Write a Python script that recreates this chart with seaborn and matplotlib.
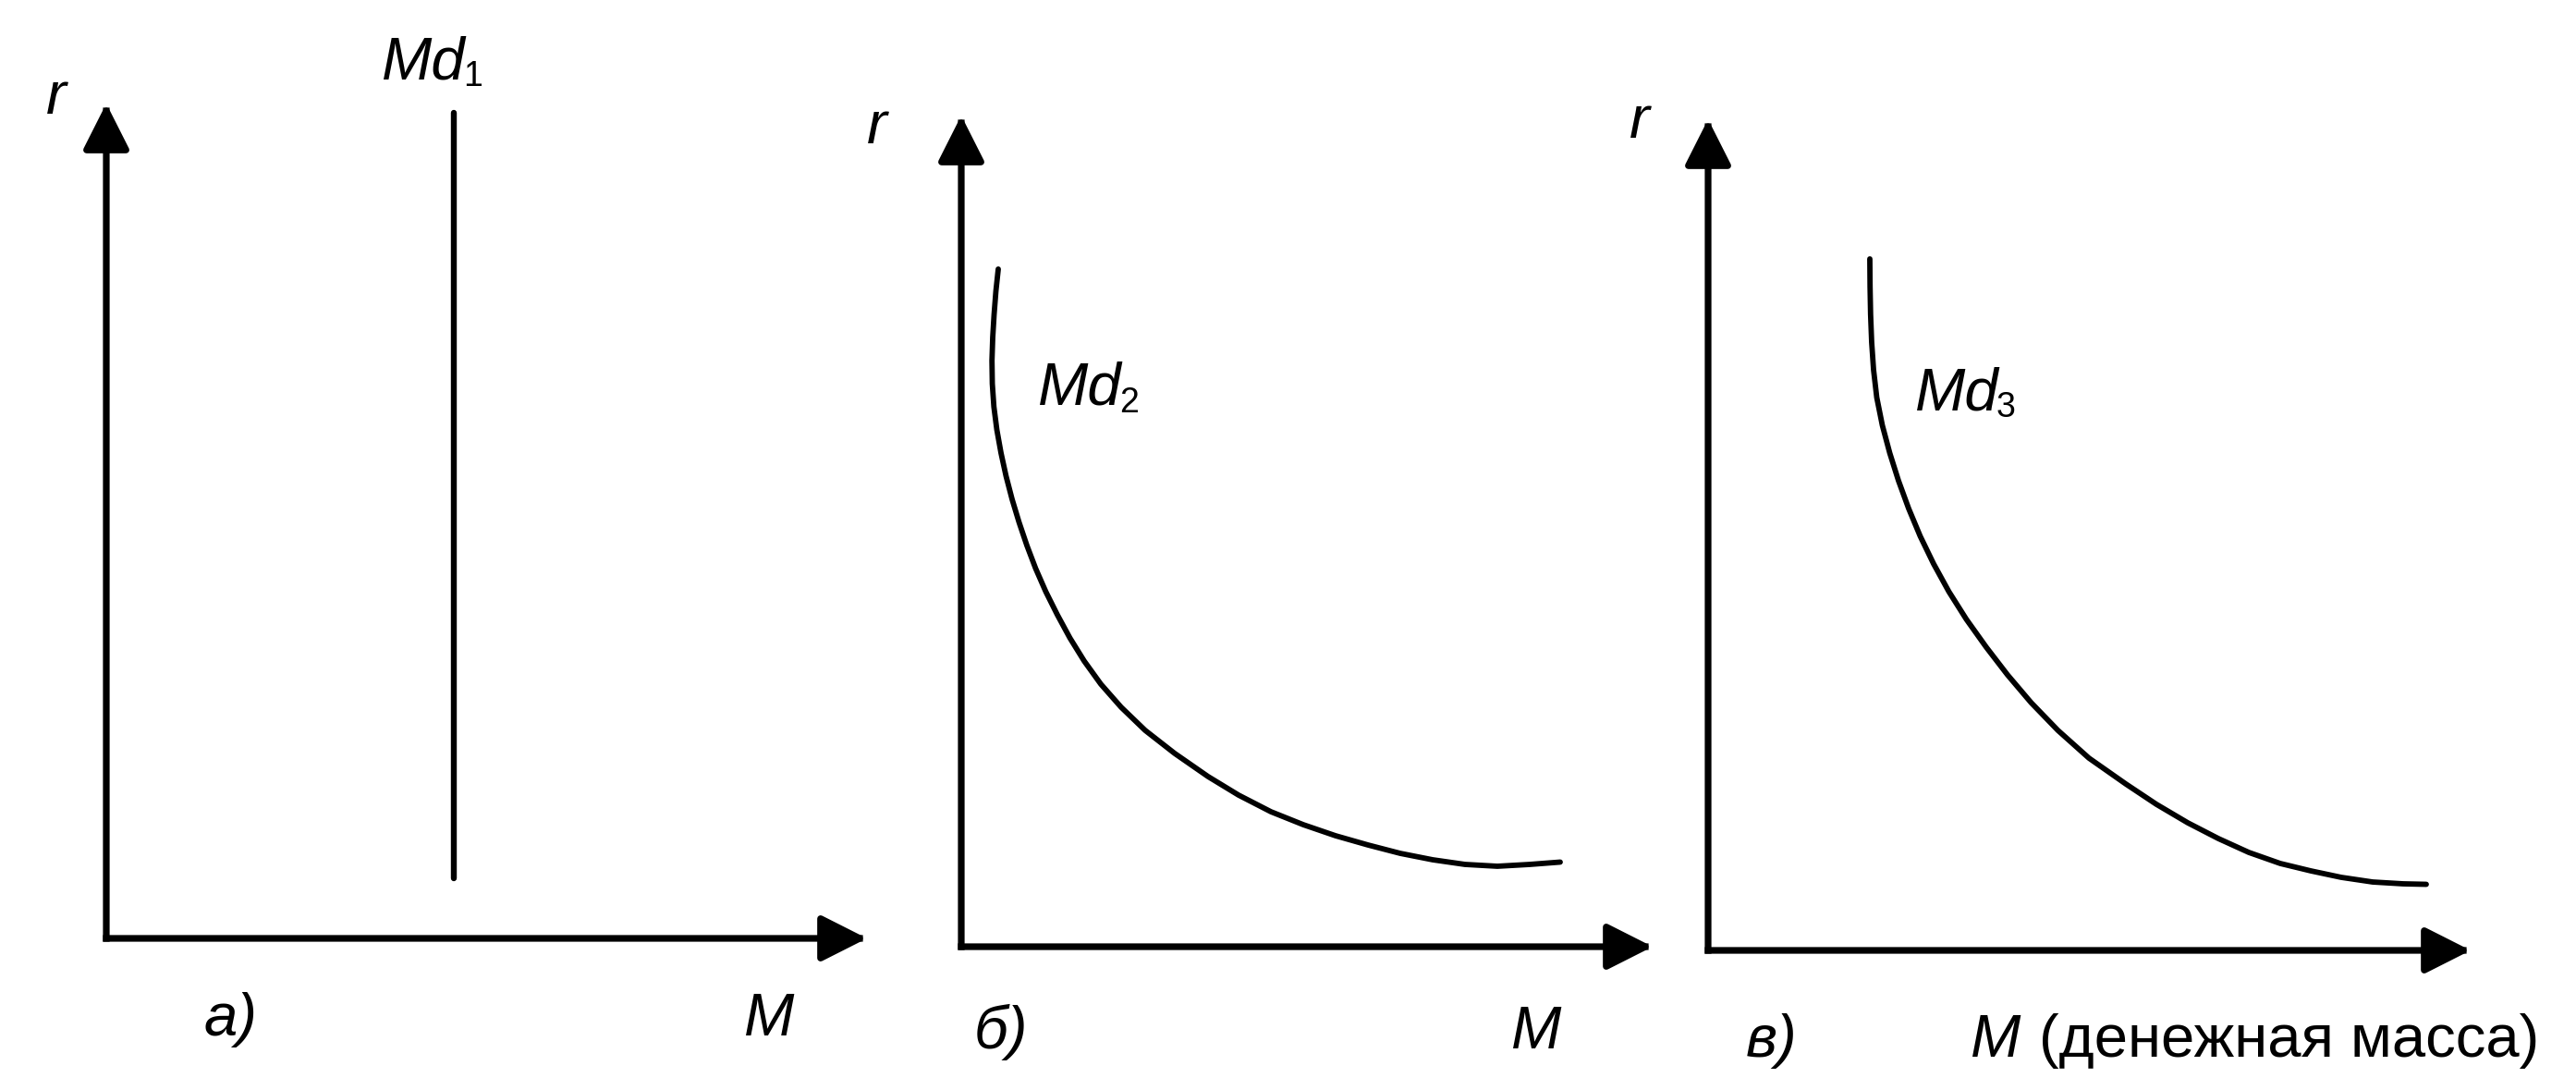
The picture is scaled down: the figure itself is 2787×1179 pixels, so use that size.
import matplotlib
matplotlib.use("Agg")
import matplotlib.pyplot as plt
import seaborn as sns

sns.set_theme(style="white")
plt.rcParams['font.family'] = ['Liberation Sans', 'DejaVu Sans']

# ---------- data (each panel: M from 0 to 10 along x, r from 0 to 10 along y) ----------
# a) vertical money demand
md1_M = [4.57, 4.57]
md1_r = [0.72, 9.89]

# б) falling curve that flattens out
md2_M = [0.535, 0.501, 0.475, 0.455, 0.444, 0.449, 0.472, 0.515, 0.575, 0.648,
         0.735, 0.836, 0.949, 1.076, 1.223, 1.390, 1.571, 1.778, 2.019, 2.313,
         2.660, 3.088, 3.570, 4.011, 4.479, 4.947, 5.414, 5.882, 6.350, 6.818,
         7.286, 7.754, 8.222, 8.663]
md2_r = [8.153, 7.887, 7.608, 7.330, 7.052, 6.774, 6.496, 6.218, 5.940, 5.662,
         5.384, 5.106, 4.828, 4.550, 4.271, 3.993, 3.715, 3.437, 3.159, 2.881,
         2.603, 2.325, 2.047, 1.824, 1.624, 1.468, 1.335, 1.224, 1.123, 1.046,
         0.990, 0.968, 0.990, 1.018]

# в) falling curve
md3_M = [2.121, 2.124, 2.131, 2.145, 2.170, 2.212, 2.285, 2.382, 2.497, 2.630,
         2.782, 2.958, 3.158, 3.388, 3.648, 3.927, 4.236, 4.588, 4.994, 5.479,
         5.879, 6.291, 6.691, 7.091, 7.503, 7.903, 8.303, 8.715, 9.115, 9.418]
md3_r = [8.320, 7.987, 7.653, 7.319, 6.986, 6.652, 6.318, 5.985, 5.651, 5.317,
         4.983, 4.650, 4.316, 3.982, 3.648, 3.315, 2.981, 2.647, 2.314, 2.002,
         1.758, 1.535, 1.346, 1.179, 1.046, 0.957, 0.879, 0.823, 0.801, 0.795]

panel_tags = ['а)', 'б)', 'в)']
curve_names = ['Md', 'Md', 'Md']
curve_subs = ['1', '2', '3']

# ---------- figure ----------
W, H = 2787, 1179
fig = plt.figure(figsize=(W / 100, H / 100), dpi=100)
fig.patch.set_facecolor('white')


def px(x, y):
    return x / W, 1 - y / H


def make_panel(ox, oy, tipx, tipy):
    # axes box: arrows start in the lower-left corner, tips sit on the upper/right edge
    ax = fig.add_axes([ox / W, 1 - oy / H, (tipx - ox) / W, (oy - tipy) / H])
    ax.set_xlim(0, 10)
    ax.set_ylim(0, 10)
    ax.set_axis_off()
    arrow = dict(arrowstyle='-|>,head_length=0.95,head_width=0.48', mutation_scale=32,
                 lw=5.2, color='black', shrinkA=0, shrinkB=0, capstyle='projecting')
    ax.annotate('', xy=(10, 0), xytext=(0, 0), arrowprops=arrow, annotation_clip=False)
    ax.annotate('', xy=(0, 10), xytext=(0, 0), arrowprops=arrow, annotation_clip=False)
    return ax


ax_a = make_panel(115, 1015, 938, 112)
ax_b = make_panel(1040, 1024, 1788, 125)
ax_c = make_panel(1848, 1028, 2673, 129)

sns.lineplot(x=md1_M, y=md1_r, ax=ax_a, color='black', lw=4.6,
             sort=False, estimator=None, solid_capstyle='round')
sns.lineplot(x=md2_M, y=md2_r, ax=ax_b, color='black', lw=4.2,
             sort=False, estimator=None, solid_capstyle='round', solid_joinstyle='round')
sns.lineplot(x=md3_M, y=md3_r, ax=ax_c, color='black', lw=4.2,
             sort=False, estimator=None, solid_capstyle='round', solid_joinstyle='round')
for ax in (ax_a, ax_b, ax_c):
    for ln in ax.lines:
        ln.set_clip_on(False)

FS = 47
SUB = 27
ital = dict(fontsize=FS, style='italic', ha='left', va='baseline', color='black')

# axis names
for (x, y) in [(50, 123), (938, 155), (1763, 149)]:
    fig.text(*px(x, y), 'r', **ital)
fig.text(*px(805, 1120), 'M', **ital)
fig.text(*px(1635, 1134), 'M', **ital)
fig.text(*px(2132, 1143), 'M', **ital)
fig.text(*px(2206, 1143), '(денежная масса)', fontsize=FS, ha='left',
         va='baseline', color='black')

# panel tags
for tag, (x, y) in zip(panel_tags, [(221, 1120), (1054, 1134), (1889, 1143)]):
    fig.text(*px(x, y), tag, **ital)

# curve labels
for name, sub, (x, y) in zip(curve_names, curve_subs, [(413, 85), (1123, 438), (2072, 443)]):
    fig.text(*px(x, y), name, **ital)
    fig.text(*px(x + 88, y + 8), sub, fontsize=SUB, ha='left', va='baseline', color='black')

fig.savefig('out.png', dpi=100, facecolor='white')
